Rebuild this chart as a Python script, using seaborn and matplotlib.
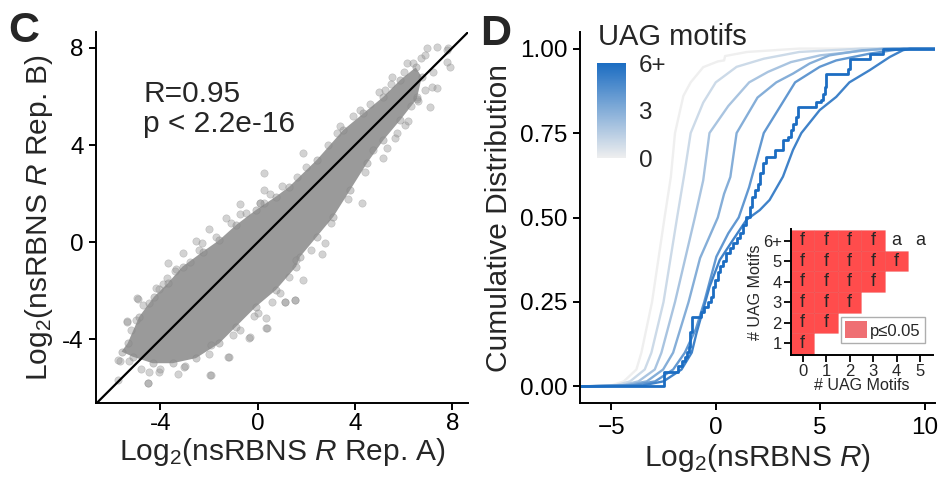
import numpy as np
import pandas as pd
import matplotlib
matplotlib.use("Agg")
import matplotlib.pyplot as plt
import seaborn as sns
from matplotlib.colors import LinearSegmentedColormap, Normalize
from matplotlib.cm import ScalarMappable
from matplotlib.patches import Patch

# ---------------- Panel C data ----------------
# dense core of the replicate scatter (outline)
core_x = [-5.6, -5.35, -4.87, -4.26, -3.70, -3.09, -2.26, -1.58, -0.89, -0.07, 0.75, 1.30,
          2.43, 3.52, 4.35, 5.17, 5.86, 6.5, 6.75, 6.54, 5.86, 5.17, 4.49, 3.80, 3.11, 2.43,
          1.74, 1.58, 0.75, -0.07, -0.89, -1.58, -2.54, -3.50, -4.32, -5.14]
core_y = [-4.5, -4.16, -3.06, -2.24, -1.69, -1.00, -0.39, 0.09, 0.71, 1.33, 1.88, 2.29,
          3.39, 4.62, 5.31, 5.99, 6.68, 7.2, 6.8, 5.9, 5.03, 4.21, 3.25, 2.15, 1.05, 0.23,
          -0.6, -1.0, -1.96, -2.65, -3.47, -4.16, -4.77, -4.98, -4.98, -4.71]
# individual points visible around the core
pts_x = [0.27, -0.72, -0.72, 0.27, -1.30, -2.02, -2.54, -2.29, -3.06, -3.70, -3.36, -3.74,
         -4.05, -4.94, -4.46, -5.38, -5.21, -5.65, -5.74, -4.53, -4.46, -4.05, -3.29, -3.02,
         -1.95, -1.19, -1.92, -0.72, -0.32, -0.14, 0.34, 0.34, 0.59, 1.14, 1.55, 1.30, 1.58,
         1.88, 0.26, 3.25, 4.21, 5.24, 5.51, 6.13, 6.95, 7.37, 7.84, 7.91, 7.78, 7.16, 7.09,
         6.88, 6.54, 6.06, 5.72, 5.65, 5.17, 4.76, 4.28, 2.77, 2.63, 0.09, 1.88, 1.12, 1.53,
         0.37, -0.34, -1.21, -1.93, -4.50, -5.74, -5.39, -4.98, 7.78, 7.37, 6.7, 7.2, 6.3,
         -5.0, -4.7, -4.2, -3.9, -3.4, -2.8, -2.4, -1.7, -1.1, -0.5, 0.1, 0.5, 1.0, 1.6, 2.0,
         2.9, 3.4, 3.9, 4.6, 5.0, 5.5, 6.0, 6.4, 6.9, -5.3, -4.8, -4.0, -3.0, -2.0, -1.0, 0.0,
         0.9, 2.2, 3.0, 3.7, 4.4, 5.3, 6.2, 6.6]
pts_y = [2.84, 1.58, 1.15, 1.60, 0.99, 0.55, 0.07, -0.04, -0.45, -0.86, -1.11, -1.48,
         -1.93, -2.35, -2.49, -3.25, -3.61, -4.87, -5.67, -5.80, -5.33, -5.33, -5.42, -5.12,
         -5.46, -4.71, -4.23, -3.61, -3.91, -3.02, -3.13, -3.51, -2.44, -2.47, -2.37, -1.42, -0.73,
         3.69, 2.15, 4.49, 5.44, 6.27, 6.81, 7.37, 7.98, 8.05, 7.98, 7.23, 7.43, 6.40, 5.58,
         6.27, 5.99, 4.83, 4.49, 4.28, 3.46, 3.80, 1.60, -0.04, -0.48, 1.60, -1.55, -2.44, -2.37,
         -3.54, -3.93, -4.71, -5.46, -5.80, -4.84, -3.27, -2.30, 7.91, 6.34, 7.6, 7.0, 5.6,
         -3.2, -2.6, -1.9, -1.7, -1.2, -0.8, -0.3, 0.2, 0.8, 1.2, 1.6, 2.0, 2.3, 2.7, 3.1,
         4.0, 4.8, 5.2, 5.7, 6.2, 6.5, 7.0, 7.4, 7.7, -4.9, -5.2, -5.2, -5.1, -4.6, -3.8, -2.9,
         -2.1, -0.3, 0.8, 1.8, 2.9, 3.9, 5.0, 5.8]
corr_lines = ["R=0.95", "p < 2.2e-16"]
c_ticks = [-4, 0, 4, 8]
c_ticklabels = ["-4", "0", "4", "8"]

# ---------------- Panel D data (ECDF curves) ----------------
motif_levels = [0, 1, 2, 3, 4, 5]
c0_x = [-6.5, -5.0, -4.4, -3.8, -3.56, -3.05, -2.45, -2.15, -1.95, -1.55, -1.2, -0.6, 0.1, 0.4, 0.45, 1.5, 4.0, 10.5]
c0_y = [0, 0.003, 0.015, 0.05, 0.10, 0.25, 0.50, 0.62, 0.75, 0.86, 0.90, 0.945, 0.962, 0.965, 0.978, 0.99, 1.0, 1.0]
c1_x = [-6.5, -4.8, -4.1, -3.4, -3.08, -2.5, -1.85, -1.5, -1.2, -0.6, 0.0, 1.0, 2.3, 4.0, 7.0, 10.5]
c1_y = [0, 0.003, 0.015, 0.05, 0.10, 0.25, 0.50, 0.63, 0.75, 0.84, 0.90, 0.946, 0.97, 0.99, 1.0, 1.0]
c2_x = [-6.5, -4.5, -3.7, -2.92, -2.6, -1.95, -1.0, -0.6, -0.3, 0.6, 1.6, 2.5, 3.6, 5.0, 8.0, 10.5]
c2_y = [0, 0.003, 0.015, 0.05, 0.10, 0.25, 0.50, 0.61, 0.75, 0.83, 0.90, 0.931, 0.96, 0.98, 1.0, 1.0]
c3_x = [-6.5, -4.3, -3.3, -2.52, -2.04, -1.3, -0.75, 0.1, 0.4, 0.7, 1.0, 2.0, 2.9, 3.70, 4.50, 5.45, 7.0, 8.5, 10.5]
c3_y = [0, 0.003, 0.015, 0.05, 0.10, 0.25, 0.38, 0.50, 0.57, 0.62, 0.75, 0.855, 0.90, 0.926, 0.956, 0.98, 0.995, 1.0, 1.0]
c4_x = [-6.5, -4.0, -2.9, -2.04, -1.48, -0.95, -0.55, 0.03, 0.6, 1.1, 1.6, 2.3, 2.8, 3.8, 4.98, 5.77, 7.37, 9.0, 10.5]
c4_y = [0, 0.003, 0.015, 0.05, 0.10, 0.17, 0.25, 0.384, 0.453, 0.50, 0.59, 0.75, 0.80, 0.90, 0.946, 0.965, 0.985, 1.0, 1.0]
c5_x = [-6.5, -3.5, -2.5, -1.64, -1.15, -0.92, -0.5, -0.29, 0.19, 0.83, 1.47, 2.11, 2.58, 3.22, 3.70, 4.1, 4.98, 5.77, 6.4, 7.37, 8.33, 8.96, 9.3, 10.5]
c5_y = [0, 0.003, 0.015, 0.05, 0.10, 0.158, 0.25, 0.296, 0.374, 0.434, 0.493, 0.522, 0.552, 0.621, 0.70, 0.75, 0.818, 0.857, 0.90, 0.936, 0.975, 0.995, 1.0, 1.0]
# 6+ motifs: few sequences, stepped ECDF
c6_x = [-6.5, -2.47, -1.80, -1.6, -1.45, -1.38, -1.30, -1.24, -1.16, -0.72, -0.55, -0.37, -0.25, -0.12,
        -0.05, 0.1, 0.19, 0.35, 0.51, 0.7, 0.83, 1.0, 1.15, 1.3, 1.47, 1.63, 1.75, 1.87, 2.0, 2.11,
        2.26, 2.42, 2.82, 3.22, 3.46, 3.60, 3.70, 3.86, 3.94, 4.74, 4.82, 5.06, 5.13, 5.22, 5.30,
        6.33, 6.41, 7.37, 8.01, 10.5]
c6_y = [0, 0.044, 0.059, 0.074, 0.088, 0.103, 0.118, 0.162, 0.206, 0.221, 0.235, 0.25, 0.265, 0.294,
        0.315, 0.338, 0.355, 0.37, 0.394, 0.41, 0.424, 0.44, 0.453, 0.478, 0.502, 0.532, 0.56, 0.581, 0.60, 0.631,
        0.660, 0.680, 0.70, 0.729, 0.739, 0.76, 0.778, 0.798, 0.827, 0.827, 0.842, 0.847, 0.867, 0.886, 0.926,
        0.941, 0.970, 0.985, 1.0, 1.0]
d_xticks = [-5, 0, 5, 10]
d_xticklabels = ["\u22125", "0", "5", "10"]
d_yticks = [0.0, 0.25, 0.5, 0.75, 1.0]
d_yticklabels = ["0.00", "0.25", "0.50", "0.75", "1.00"]
cbar_ticks = [0, 3, 6]
cbar_labels = ["0", "3", "6+"]

# inset: pairwise significance tiles
tile_x = [0, 1, 2, 3, 0, 1, 2, 3, 4, 0, 1, 2, 3, 0, 1, 2, 0, 1, 0]
tile_y = [6, 6, 6, 6, 5, 5, 5, 5, 5, 4, 4, 4, 4, 3, 3, 3, 2, 2, 1]
tile_lab = ["f"] * 19
ns_x = [4, 5]
ns_y = [6, 6]
ns_lab = ["a", "a"]
inset_xlabels = ["0", "1", "2", "3", "4", "5"]
inset_ylabels = ["1", "2", "3", "4", "5", "6+"]

# ---------------- style ----------------
sns.set_theme(style="ticks")
plt.rcParams["font.family"] = ["Liberation Sans", "DejaVu Sans"]
plt.rcParams["mathtext.fontset"] = "custom"
plt.rcParams["mathtext.rm"] = "Liberation Sans"
plt.rcParams["mathtext.it"] = "Liberation Sans:italic"
plt.rcParams["mathtext.bf"] = "Liberation Sans:bold"
plt.rcParams["axes.unicode_minus"] = False

W, H = 938, 479
fig = plt.figure(figsize=(W / 100, H / 100), dpi=100)

def fx(px):
    return px / W

def fy(py):
    return 1 - py / H

TICK_FS = 17.5
LAB_FS = 21.5

def style_axis(ax):
    sns.despine(ax=ax)
    for s in ("left", "bottom"):
        ax.spines[s].set_linewidth(1.4)
        ax.spines[s].set_color("black")
    ax.tick_params(length=5, width=1.4, color="black", labelsize=TICK_FS, labelcolor="black")

# ---------------- Panel C ----------------
axC = fig.add_axes([fx(96), fy(403.3), fx(468 - 96), (403.3 - 31.7) / H])
axC.set_facecolor("white")
axC.fill(core_x, core_y, color="#9a9a9a", lw=0, zorder=1)
sns.scatterplot(x=core_x, y=core_y, ax=axC, s=28, color="#8f8f8f", alpha=0.45,
                edgecolor="#808080", linewidth=0.4, legend=False, zorder=2)
sns.scatterplot(x=pts_x, y=pts_y, ax=axC, s=28, color="#8f8f8f", alpha=0.4,
                edgecolor="#808080", linewidth=0.4, legend=False, zorder=2)
axC.axline((0, 0), slope=1, color="black", lw=1.6, zorder=3)
axC.set_xlim(-6.65, 8.65)
axC.set_ylim(-6.63, 8.67)
axC.set_xticks(c_ticks)
axC.set_xticklabels(c_ticklabels)
axC.set_yticks(c_ticks)
axC.set_yticklabels(c_ticklabels)
style_axis(axC)
axC.tick_params(axis="x", pad=2)
axC.tick_params(axis="y", pad=4)
axC.set_xlabel("Log$_2$(nsRBNS $R$ Rep. A)", fontsize=LAB_FS, labelpad=0.5)
axC.set_ylabel("Log$_2$(nsRBNS $R$ Rep. B)", fontsize=LAB_FS, labelpad=5)
axC.text(-4.71, 5.79, corr_lines[0], fontsize=21.5, va="baseline", ha="left")
axC.text(-4.71, 4.55, corr_lines[1], fontsize=21.5, va="baseline", ha="left")

# ---------------- Panel D ----------------
cmap = LinearSegmentedColormap.from_list("uag", ["#EFEFEF", "#1C6DC2"])
norm = Normalize(0, 6)

axD = fig.add_axes([fx(580), fy(403.3), fx(935 - 580), (403.3 - 31.7) / H])
curves = [(c0_x, c0_y), (c1_x, c1_y), (c2_x, c2_y), (c3_x, c3_y), (c4_x, c4_y), (c5_x, c5_y)]
rows = []
for lvl, (xs, ys) in zip(motif_levels, curves):
    for xv, yv in zip(xs, ys):
        rows.append({"x": xv, "y": yv, "motifs": lvl})
df = pd.DataFrame(rows)
pal = {lvl: cmap(norm(lvl)) for lvl in motif_levels}
sns.lineplot(data=df, x="x", y="y", hue="motifs", palette=pal, estimator=None, sort=False,
             legend=False, lw=1.7, ax=axD)
sns.lineplot(x=c6_x, y=c6_y, color=cmap(norm(6)), estimator=None, sort=False,
             drawstyle="steps-post", lw=2.0, ax=axD, legend=False)
axD.set_xlim(-6.5, 10.5)
axD.set_ylim(-0.05, 1.05)
axD.set_xticks(d_xticks)
axD.set_xticklabels(d_xticklabels)
axD.set_yticks(d_yticks)
axD.set_yticklabels(d_yticklabels)
style_axis(axD)
axD.tick_params(axis="x", pad=5)
axD.tick_params(axis="y", pad=4)
axD.set_xlabel("Log$_2$(nsRBNS $R$)", fontsize=LAB_FS, labelpad=2)
axD.set_ylabel("Cumulative Distribution", fontsize=LAB_FS, labelpad=5)

# colour bar legend
cax = fig.add_axes([fx(597), fy(158.3), fx(29), 95 / H])
cb = fig.colorbar(ScalarMappable(norm=norm, cmap=cmap), cax=cax, ticks=cbar_ticks)
cb.outline.set_visible(False)
cb.ax.set_yticklabels(cbar_labels)
cax.tick_params(axis="y", direction="in", color="white", length=4, width=1.0,
                left=True, right=True, labelsize=TICK_FS, pad=9)
fig.text(fx(598), fy(45), "UAG motifs", fontsize=21, va="baseline", ha="left")

# inset significance grid
axI = fig.add_axes([fx(791), fy(355), fx(933 - 791), (355 - 229) / H])
axI.set_facecolor("none")
axI.bar(tile_x, [1.0] * len(tile_x), bottom=np.array(tile_y) - 0.5, width=1.0,
        color=(1, 0, 0, 0.7), edgecolor=(0.8, 0.15, 0.15, 0.15), lw=0.6, zorder=1)
for xv, yv, lab in zip(tile_x, tile_y, tile_lab):
    axI.text(xv, yv, lab, ha="center", va="center", fontsize=13, zorder=3)
for xv, yv, lab in zip(ns_x, ns_y, ns_lab):
    axI.text(xv, yv, lab, ha="center", va="center", fontsize=13, zorder=3)
axI.set_xlim(-0.5, 5.55)
axI.set_ylim(0.43, 6.57)
axI.set_xticks(range(6))
axI.set_xticklabels(inset_xlabels)
axI.set_yticks(range(1, 7))
axI.set_yticklabels(inset_ylabels)
sns.despine(ax=axI)
for s in ("left", "bottom"):
    axI.spines[s].set_linewidth(1.4)
    axI.spines[s].set_color("black")
axI.tick_params(length=5, width=1.3, color="black", labelsize=12, pad=1.5)
axI.set_xlabel("# UAG Motifs", fontsize=11.5, labelpad=-1)
axI.set_ylabel("# UAG Motifs", fontsize=11.5, labelpad=0)
leg = axI.legend(handles=[Patch(facecolor="#EF6F73", edgecolor="none", label="p\u22640.05")],
                 loc="upper left", bbox_to_anchor=(0.352, 0.30), frameon=True, fancybox=False,
                 fontsize=12, handlelength=1.3, handleheight=1.2, borderpad=0.25,
                 handletextpad=0.2, borderaxespad=0)
leg.get_frame().set_edgecolor("#9a9a9a")
leg.get_frame().set_linewidth(1.0)

# panel letters
fig.text(fx(8), fy(42), "C", fontsize=31, fontweight="bold", va="baseline", ha="left")
fig.text(fx(480), fy(45), "D", fontsize=31, fontweight="bold", va="baseline", ha="left")

fig.savefig("out.png", dpi=100, facecolor="white")
